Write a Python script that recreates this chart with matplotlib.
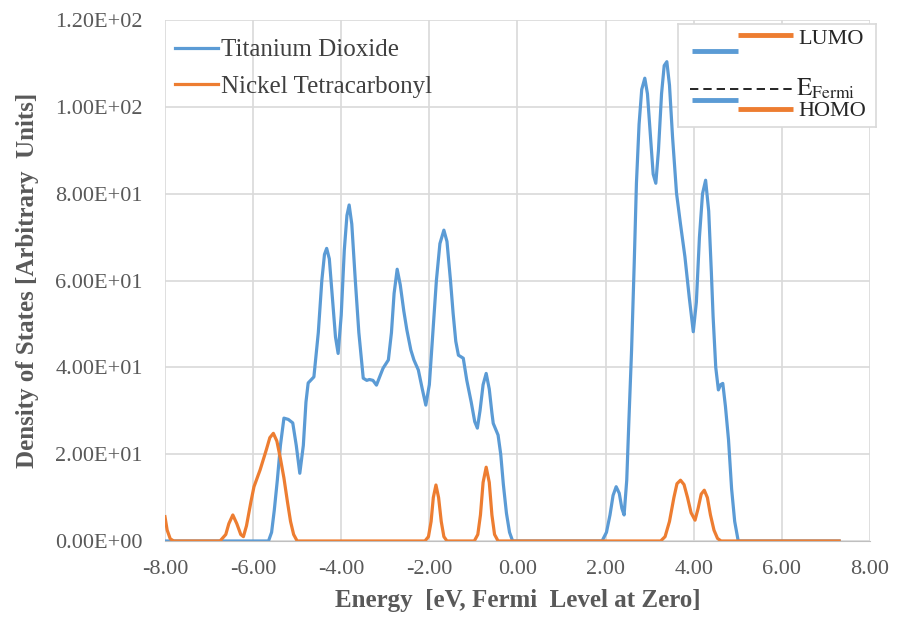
import matplotlib
matplotlib.use("Agg")
import matplotlib.pyplot as plt

plt.rcParams['font.family'] = ['Liberation Serif', 'DejaVu Serif']
plt.rcParams['mathtext.fontset'] = 'stix'

# values (energy in eV, DOS in arbitrary units)
tio2_e = [-8.0, -5.65, -5.58, -5.52, -5.45, -5.38, -5.30, -5.20, -5.10, -5.02, -4.94,
          -4.86, -4.80, -4.75, -4.62, -4.52, -4.44, -4.38, -4.33, -4.27, -4.20, -4.13,
          -4.07, -4.00, -3.93, -3.87, -3.82, -3.76, -3.68, -3.60, -3.50, -3.42, -3.36,
          -3.28, -3.20, -3.12, -3.05, -2.93, -2.86, -2.80, -2.73, -2.66, -2.58, -2.51,
          -2.42, -2.35, -2.25, -2.16, -2.08, -2.00, -1.92, -1.84, -1.76, -1.67, -1.60,
          -1.52, -1.46, -1.40, -1.34, -1.23, -1.15, -1.05, -0.97, -0.91, -0.85, -0.78,
          -0.71, -0.64, -0.58, -0.55, -0.44, -0.38, -0.32, -0.25, -0.18, -0.11,
          1.92, 2.02, 2.10, 2.17, 2.24, 2.31, 2.37, 2.42, 2.48, 2.53, 2.59, 2.65, 2.70,
          2.76, 2.82, 2.89, 2.95, 3.02, 3.08, 3.14, 3.20, 3.27, 3.33, 3.39, 3.45, 3.52,
          3.61, 3.70, 3.80, 3.90, 3.99, 4.06, 4.13, 4.20, 4.27, 4.34, 4.40, 4.44, 4.50,
          4.56, 4.61, 4.66, 4.72, 4.79, 4.86, 4.93, 5.01, 7.30]
tio2_dos = [0, 0, 2, 7, 14, 22, 28.3, 28.0, 27.2, 22, 15.6,
            22, 32, 36.4, 37.8, 48, 60, 66, 67.4, 65, 56, 47,
            43.2, 52, 67, 75, 77.4, 73, 60, 48, 37.5, 37, 37.2,
            37, 35.9, 38, 39.8, 41.7, 48, 57, 62.6, 59, 53, 48.6,
            44, 41.7, 39.4, 35, 31.3, 36, 48, 60, 68.5, 71.6, 69,
            60, 52.4, 46, 42.8, 42.1, 37, 32, 27.5, 26.0, 30, 36,
            38.6, 35, 29.5, 27.1, 24.4, 20, 13, 6.4, 2, 0,
            0, 2, 6, 10.5, 12.5, 11, 7.5, 6.0, 14, 28, 44, 64, 82.4,
            96, 104, 106.6, 103, 93, 84.5, 82.4, 90, 103, 109.5, 110.4, 105, 93,
            80.1, 73, 65.5, 56, 48.2, 55, 70, 80, 83.1, 76, 62, 51.7, 40,
            34.8, 36, 36.3, 31, 23.3, 12, 4.5, 0, 0]

ni_e = [-8.0, -7.95, -7.88, -7.80, -6.75, -6.62, -6.55, -6.46, -6.37, -6.28, -6.22,
        -6.15, -6.05, -5.98, -5.84, -5.70, -5.62, -5.54, -5.46, -5.38, -5.30, -5.22,
        -5.15, -5.08, -5.00,
        -2.10, -2.02, -1.96, -1.91, -1.85, -1.79, -1.73, -1.67, -1.60,
        -0.98, -0.90, -0.84, -0.78, -0.71, -0.64, -0.58, -0.52, -0.44,
        3.25, 3.35, 3.45, 3.55, 3.62, 3.70, 3.78, 3.86, 3.94, 4.03, 4.10, 4.17,
        4.24, 4.31, 4.38, 4.46, 4.54, 4.62, 7.30]
ni_dos = [5.6, 2.5, 0.5, 0, 0, 1.5, 4, 6.0, 4, 1.5, 1.0,
          3.5, 9, 12.5, 16.4, 21, 23.8, 24.8, 23, 19, 14.5, 9,
          4.5, 1.5, 0,
          0, 1, 4.5, 10, 12.9, 10, 4.5, 1, 0,
          0, 1.5, 6, 13.5, 17, 13.5, 6, 1.5, 0,
          0, 1, 4.5, 10, 13.2, 14.0, 13, 10, 6.5, 4.8, 7.5, 10.8,
          11.7, 10, 6, 2.5, 0.6, 0, 0]

x_ticks = [-8, -6, -4, -2, 0, 2, 4, 6, 8]
y_ticks = [0, 20, 40, 60, 80, 100, 120]
y_labels = ['0.00E+00', '2.00E+01', '4.00E+01', '6.00E+01', '8.00E+01', '1.00E+02', '1.20E+02']

blue = '#5B9BD5'
orange = '#ED7D31'
grey_txt = '#595959'

fig = plt.figure(figsize=(8.99, 6.18), dpi=100)
ax = fig.add_axes([0.1835, 0.1246, 0.7842, 0.843])

ax.plot(tio2_e, tio2_dos, color=blue, lw=2.3, solid_joinstyle='round', label='Titanium Dioxide')
ax.plot(ni_e, ni_dos, color=orange, lw=2.3, solid_joinstyle='round', label='Nickel Tetracarbonyl')

ax.set_xlim(-8, 8)
ax.set_ylim(0, 120)
ax.set_xticks(x_ticks)
ax.set_yticks(y_ticks)
ax.set_xticklabels(['%.2f' % v for v in x_ticks])
ax.set_yticklabels(y_labels)
ax.grid(True, color='#d9d9d9', lw=1.2)
ax.set_axisbelow(True)
for s in ['top', 'right', 'left']:
    ax.spines[s].set_visible(False)
ax.spines['bottom'].set_color('#bfbfbf')
ax.tick_params(length=0, labelsize=16, colors=grey_txt)
ax.tick_params(axis='y', pad=16)
ax.tick_params(axis='x', pad=14)

ax.set_xlabel('Energy  [eV, Fermi  Level at Zero]', fontsize=18, fontweight='bold', color=grey_txt, labelpad=7)
ax.set_ylabel('Density of States [Arbitrary  Units]', fontsize=18, fontweight='bold', color=grey_txt, labelpad=12)

leg = ax.legend(loc='upper left', bbox_to_anchor=(-0.013, 1.0), frameon=False, fontsize=18,
                handlelength=1.75, handletextpad=0.1, borderaxespad=0.25, labelspacing=0.55, borderpad=0.5)
for t in leg.get_texts():
    t.set_color('#404040')

# energy level schematic box (top right)
box = fig.add_axes([678 / 899, 1 - 127 / 618, 198 / 899, 103 / 618])
box.set_xlim(678, 876)
box.set_ylim(127, 24)
box.set_xticks([])
box.set_yticks([])
for s in box.spines.values():
    s.set_color('#d9d9d9')
    s.set_linewidth(1.2)
box.plot([692, 738], [51, 51], color=blue, lw=3.5, solid_capstyle='butt')
box.plot([738, 793], [35, 35], color=orange, lw=3.5, solid_capstyle='butt')
box.plot([690, 795], [89, 89], color='black', lw=1.2, ls=(0, (5, 3)))
box.plot([692, 738], [100, 100], color=blue, lw=3.5, solid_capstyle='butt')
box.plot([738, 793], [109, 109], color=orange, lw=3.5, solid_capstyle='butt')
box.text(798, 39, 'LUMO', fontsize=16, color='#262626', va='center', ha='left')
box.text(796, 89, r'$\mathrm{E_{Fermi}}$', fontsize=18, color='#262626', va='center', ha='left')
box.text(798, 111, 'HOMO', fontsize=16, color='#262626', va='center', ha='left')

fig.savefig('out.png', dpi=100)
